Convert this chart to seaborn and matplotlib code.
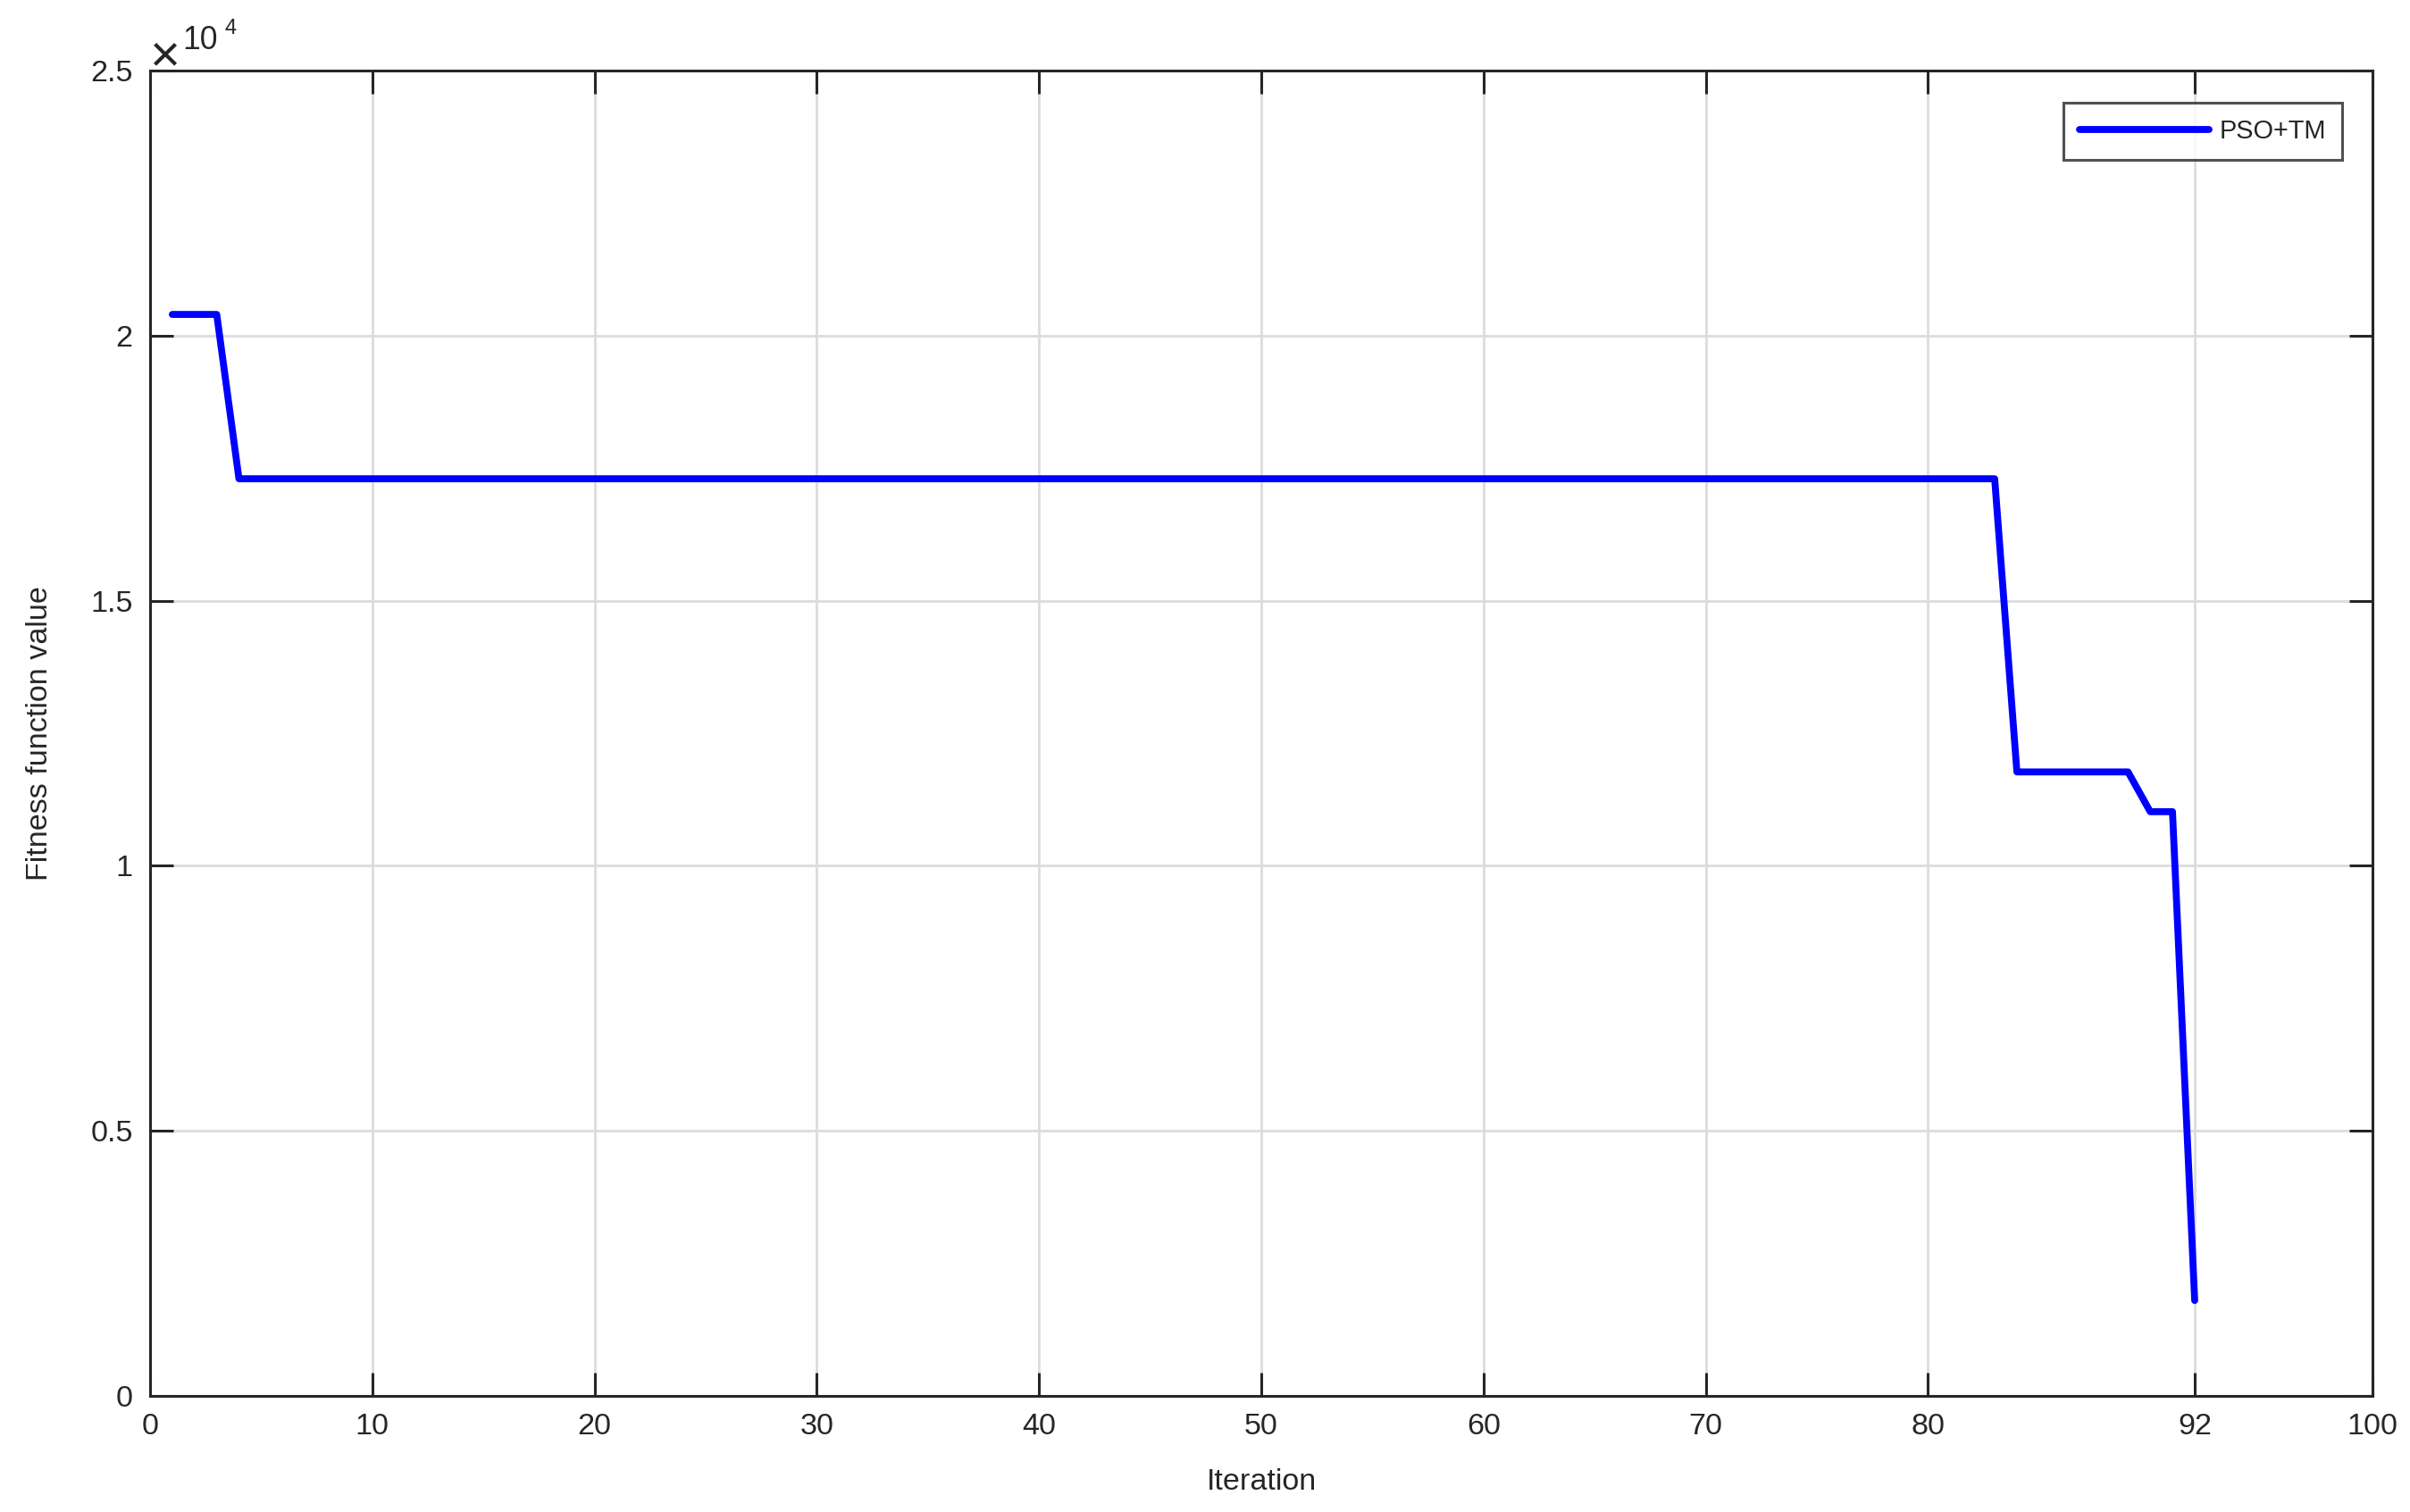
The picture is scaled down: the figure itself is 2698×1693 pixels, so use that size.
import matplotlib
matplotlib.use("Agg")
import matplotlib.pyplot as plt
import seaborn as sns
import pandas as pd
from matplotlib.ticker import FuncFormatter

# convergence curve (break points of the step-like polyline)
iterations = [1, 3, 4, 83, 84, 89, 90, 91, 92]
fitness = [20400, 20400, 17300, 17300, 11770, 11770, 11020, 11020, 1800]
series_name = "PSO+TM"

x_ticks = [0, 10, 20, 30, 40, 50, 60, 70, 80, 92, 100]
y_ticks = [0, 5000, 10000, 15000, 20000, 25000]

LINE = "#0000ff"
AXIS = "#262626"
GRID = "#dcdcdc"
FS = 12.3

sns.set_theme(style="white")
plt.rcParams["font.family"] = ["Liberation Sans", "DejaVu Sans"]

df = pd.DataFrame({"Iteration": iterations, "Fitness": fitness, "series": series_name})

W, H = 2698, 1693
fig = plt.figure(figsize=(W / 200, H / 200), dpi=200, facecolor="white")
ax = fig.add_axes([168 / W, 1 - 1563 / H, (2656 - 168) / W, (1563 - 79) / H])

sns.lineplot(data=df, x="Iteration", y="Fitness", hue="series", palette=[LINE],
             linewidth=2.8, ax=ax, sort=False)

ax.set_xlim(0, 100)
ax.set_ylim(0, 25000)
ax.set_xticks(x_ticks)
ax.set_yticks(y_ticks)
ax.yaxis.set_major_formatter(FuncFormatter(lambda v, p: f"{v / 1e4:g}"))

ax.grid(True, color=GRID, linewidth=1.0)
ax.set_axisbelow(True)
for s in ax.spines.values():
    s.set_color(AXIS)
    s.set_linewidth(1.1)
ax.tick_params(direction="in", length=9.5, width=1.1, color=AXIS, labelcolor=AXIS,
               labelsize=FS, pad=7, top=True, right=True, bottom=True, left=True)

ax.set_xlabel("Iteration", fontsize=FS, color=AXIS, labelpad=11)
ax.set_ylabel("Fitness function value", fontsize=FS, color=AXIS, labelpad=15)

# x10^4 exponent label, MATLAB style
fig.text(185 / W, 1 - 64 / H, "\u00d7", fontsize=21, color=AXIS, ha="center", va="center")
fig.text(204 / W, 1 - 55 / H, "10", fontsize=FS + 0.5, color=AXIS, ha="left", va="baseline")
fig.text(252 / W, 1 - 38 / H, "4", fontsize=8.5, color=AXIS, ha="left", va="baseline")

leg = ax.legend(loc="upper right", bbox_to_anchor=(0.9862, 0.9757), borderaxespad=0,
                fontsize=10.4, handlelength=5.0, frameon=True, fancybox=False,
                borderpad=0.62, handletextpad=0.4)
leg.get_frame().set_edgecolor(AXIS)
leg.get_frame().set_linewidth(1.1)
for t in leg.get_texts():
    t.set_color(AXIS)

plt.savefig("out.png", dpi=200, facecolor="white")
plt.close()
